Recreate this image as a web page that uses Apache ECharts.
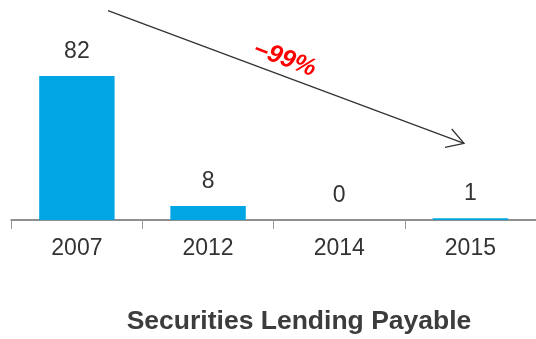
<!DOCTYPE html>
<html>
<head>
<meta charset="utf-8">
<script src="https://cdn.jsdelivr.net/npm/echarts@6/dist/echarts.min.js"></script>
<style>
  html, body { margin: 0; padding: 0; background: #fff; }
  #chart { width: 536px; height: 339px; }
</style>
</head>
<body>
<div id="chart"></div>
<script>
// Securities lending payable by year
const years = ['2007', '2012', '2014', '2015'];
const payable = [82, 8, 0, 1];
const chartTitle = 'Securities Lending Payable';
const changeLabel = '–99%';

const FONT = '"Liberation Sans", Arial, sans-serif';
const chart = echarts.init(document.getElementById('chart'));

chart.setOption({
  animation: false,
  backgroundColor: '#ffffff',
  grid: { left: 11.3, width: 530.4, top: 76, bottom: 119, containLabel: false },
  xAxis: {
    type: 'category',
    data: years,
    boundaryGap: true,
    axisLine: { show: true, lineStyle: { color: '#8f8f8f', width: 2 } },
    axisTick: { show: true, length: 9, lineStyle: { color: '#9a9a9a', width: 1 } },
    axisLabel: { color: '#333333', fontFamily: FONT, fontSize: 23, margin: 17 }
  },
  yAxis: {
    type: 'value',
    min: 0,
    max: 82,
    show: false,
    splitLine: { show: false }
  },
  series: [{
    type: 'bar',
    data: payable,
    barWidth: '57.5%',
    itemStyle: { color: '#00a5e3' },
    label: {
      show: true,
      position: 'top',
      distance: 13,
      color: '#333333',
      fontFamily: FONT,
      fontSize: 23
    }
  }],
  graphic: [
    // trend arrow from 2007 down to 2015
    {
      type: 'line',
      shape: { x1: 108, y1: 10.6, x2: 464, y2: 143.3 },
      style: { stroke: '#333333', lineWidth: 1.3 }
    },
    {
      type: 'polyline',
      shape: { points: [[451.7, 129], [464, 143.3], [445, 147.3]] },
      style: { stroke: '#333333', lineWidth: 1.3, fill: null }
    },
    {
      type: 'text',
      x: 285,
      y: 59,
      rotation: -0.356,
      style: {
        text: changeLabel,
        fill: '#ff0000',
        font: 'italic bold 25px ' + FONT,
        align: 'center',
        verticalAlign: 'middle'
      }
    },
    {
      type: 'text',
      x: 299,
      y: 322,
      style: {
        text: chartTitle,
        fill: '#3c3c3c',
        font: 'bold 26.5px ' + FONT,
        align: 'center',
        verticalAlign: 'middle'
      }
    }
  ]
});
</script>
</body>
</html>
